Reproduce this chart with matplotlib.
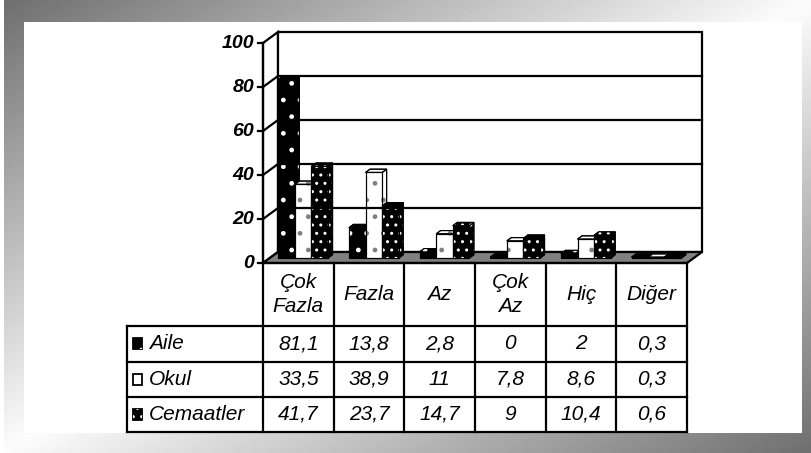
import numpy as np
import matplotlib
matplotlib.use('Agg')
import matplotlib.pyplot as plt
from matplotlib.patches import Rectangle, Polygon

# --- data ---
categories = ['Çok\nFazla', 'Fazla', 'Az', 'Çok\nAz', 'Hiç', 'Diğer']
series_names = ['Aile', 'Okul', 'Cemaatler']
aile = [81.1, 13.8, 2.8, 0, 2, 0.3]
okul = [33.5, 38.9, 11, 7.8, 8.6, 0.3]
cemaatler = [41.7, 23.7, 14.7, 9, 10.4, 0.6]
yticks = [0, 20, 40, 60, 80, 100]

# styles per series: face, hatch, hatch colour
styles = [('#000000', '.', '#ffffff'),
          ('#ffffff', '.', '#808080'),
          ('#000000', '..', '#ffffff')]

W, H = 812, 453
plt.rcParams['font.family'] = ['Liberation Sans', 'DejaVu Sans']
plt.rcParams['hatch.linewidth'] = 1.0
FS = 15

fig = plt.figure(figsize=(W / 100, H / 100), dpi=100)

# ---- background frame with gradient ----
bg = fig.add_axes([0, 0, 1, 1])
bg.set_xlim(0, W)
bg.set_ylim(H, 0)
bg.axis('off')
xx, yy = np.meshgrid(np.arange(W), np.arange(H))
s = xx / W + yy / H
grad = 110 + 142 * (1 - np.abs(s - 1))
grad[:, :4] = 255
bg.imshow(grad, cmap='gray', vmin=0, vmax=255, extent=(0, W, H, 0), aspect='auto')
bg.add_patch(Rectangle((24, 22), 802 - 24, 433 - 22, facecolor='white', edgecolor='none'))

# ---- chart axes (front plane) ----
x_left, x_right = 263, 687
y_zero, y_top = 263, 43
ax = fig.add_axes([x_left / W, (H - y_zero) / H, (x_right - x_left) / W, (y_zero - y_top) / H])
ax.set_xlim(0, len(categories))
ax.set_ylim(0, 100)
ax.axis('off')
ux = (x_right - x_left) / len(categories)   # px per category
uy = (y_zero - y_top) / 100.0                # px per value
DX = 15 / ux
DY = 11 / uy
lw = 1.6
ncat = len(categories)

def poly(pts, **kw):
    p = Polygon(pts, closed=True, clip_on=False, **kw)
    ax.add_patch(p)
    return p

# side wall, back wall, floor
poly([(0, 0), (DX, DY), (DX, 100 + DY), (0, 100)], facecolor='white', edgecolor='black', lw=lw)
poly([(DX, DY), (ncat + DX, DY), (ncat + DX, 100 + DY), (DX, 100 + DY)],
     facecolor='white', edgecolor='black', lw=lw)
for t in yticks[1:-1]:
    ax.plot([0, DX, ncat + DX], [t, t + DY, t + DY], color='black', lw=lw, clip_on=False)
poly([(0, 0), (ncat, 0), (ncat + DX, DY), (DX, DY)], facecolor='#808080', edgecolor='black', lw=lw)

# y axis ticks / labels on front edge
ax.plot([0, 0], [0, 100], color='black', lw=lw, clip_on=False)
for t in yticks:
    ax.plot([-5 / ux, 0], [t, t], color='black', lw=lw, clip_on=False)
    ax.text(-9 / ux, t, str(t), ha='right', va='center', fontsize=14,
            fontweight='bold', fontstyle='italic')

# 3D bars
f0, f1 = 0.45, 0.75
bw = 0.235
off = 0.12

def bar3d(x, h, face, hatch, hcol):
    x0 = x + f0 * DX
    y0 = f0 * DY
    ddx = (f1 - f0) * DX
    ddy = (f1 - f0) * DY
    shapes = [
        [(x0 + bw, y0), (x0 + bw + ddx, y0 + ddy), (x0 + bw + ddx, y0 + h + ddy), (x0 + bw, y0 + h)],
        [(x0, y0 + h), (x0 + bw, y0 + h), (x0 + bw + ddx, y0 + h + ddy), (x0 + ddx, y0 + h + ddy)],
        [(x0, y0), (x0 + bw, y0), (x0 + bw, y0 + h), (x0, y0 + h)],
    ]
    for pts in shapes:
        poly(pts, facecolor=face, edgecolor='black', lw=0.8)
        poly(pts, fill=False, edgecolor=hcol, hatch=hatch, lw=0)
        poly(pts, fill=False, edgecolor='black', lw=0.8)

values = [aile, okul, cemaatler]
for i in range(ncat):
    for k, vals in enumerate(values):
        face, hatch, hcol = styles[k]
        bar3d(i + off + k * bw, max(vals[i], 0.4), face, hatch, hcol)

# ---- data table ----
tab_left, tab_bottom = 127, 432
leg_w = (x_left - tab_left) / ux
hdr = 1.8
nrows = len(series_names)
tax = fig.add_axes([tab_left / W, (H - tab_bottom) / H,
                    (x_right - tab_left) / W, (tab_bottom - y_zero) / H])
tax.set_xlim(-leg_w, ncat)
tax.set_ylim(hdr + nrows, 0)
tax.axis('off')
row_px = (tab_bottom - y_zero) / (hdr + nrows)

tax.plot([0, ncat], [0, 0], color='black', lw=lw, clip_on=False)
for r in range(nrows + 1):
    tax.plot([-leg_w, ncat], [hdr + r, hdr + r], color='black', lw=lw, clip_on=False)
tax.plot([-leg_w, -leg_w], [hdr, hdr + nrows], color='black', lw=lw, clip_on=False)
for c in range(ncat + 1):
    tax.plot([c, c], [0, hdr + nrows], color='black', lw=lw, clip_on=False)

for c, name in enumerate(categories):
    tax.text(c + 0.5, hdr / 2, name, ha='center', va='center', fontsize=FS,
             fontstyle='italic', linespacing=1.35)

key_w, key_h = 9, 11
for r, (name, vals) in enumerate(zip(series_names, values)):
    yc = hdr + r + 0.5
    face, hatch, hcol = styles[r]
    kx = -leg_w + 6 / ux
    kw = key_w / ux
    kh = key_h / row_px
    rect = [(kx, yc - kh / 2), (kx + kw, yc - kh / 2),
            (kx + kw, yc + kh / 2), (kx, yc + kh / 2)]
    tax.add_patch(Polygon(rect, facecolor=face, edgecolor='black', lw=1.3, clip_on=False))
    if face == '#000000':
        tax.add_patch(Polygon(rect, fill=False, edgecolor=hcol, hatch=hatch, lw=0, clip_on=False))
    tax.text(-leg_w + 22 / ux, yc, name, ha='left', va='center', fontsize=FS, fontstyle='italic')
    for c, v in enumerate(vals):
        tax.text(c + 0.5, yc, f'{v:g}'.replace('.', ','), ha='center', va='center',
                 fontsize=FS, fontstyle='italic')

fig.savefig('out.png', dpi=100)
